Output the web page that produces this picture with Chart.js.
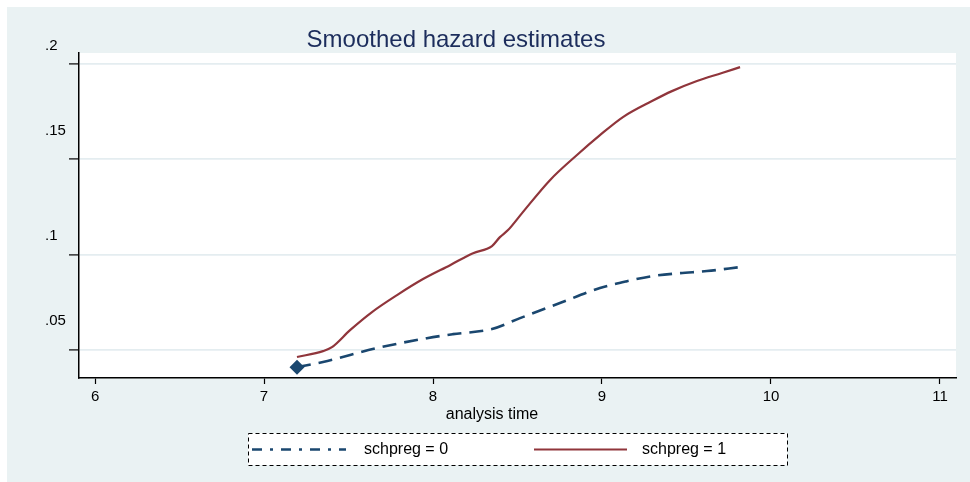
<!DOCTYPE html>
<html>
<head>
<meta charset="utf-8">
<title>Smoothed hazard estimates</title>
<script src="https://cdn.jsdelivr.net/npm/chart.js@4/dist/chart.umd.min.js"></script>
<style>
  html, body { margin: 0; padding: 0; background: #ffffff; }
  #wrap { width: 970px; height: 482px; }
</style>
</head>
<body>
<div id="wrap"><canvas id="hazard" width="970" height="482"></canvas></div>
<script>
// --- data ---
const timeGroup0 = [7.195, 7.349, 7.669, 7.964, 8.118, 8.349, 8.515, 8.751, 8.988, 9.148, 9.302, 9.462, 9.621, 9.817];
const hazardGroup0 = [0.0410, 0.0437, 0.0510, 0.0562, 0.0583, 0.0610, 0.0667, 0.0746, 0.0825, 0.0861, 0.0888, 0.0903, 0.0914, 0.0935];

const timeGroup1 = [7.195, 7.349, 7.402, 7.509, 7.639, 7.787, 7.941, 8.101, 8.237, 8.349, 8.396, 8.444, 8.527, 8.692, 8.852, 8.988, 9.124, 9.296, 9.414, 9.562, 9.710, 9.817];
const hazardGroup1 = [0.0463, 0.0494, 0.0515, 0.0604, 0.0699, 0.0788, 0.0872, 0.0945, 0.1008, 0.1045, 0.1092, 0.1129, 0.1218, 0.1391, 0.1523, 0.1627, 0.1722, 0.1806, 0.1858, 0.1911, 0.1953, 0.1984];

const seriesLabels = ['schpreg = 0', 'schpreg = 1'];
const xTickValues = [6, 7, 8, 9, 10, 11];
const xTickLabels = ['6', '7', '8', '9', '10', '11'];
const yTickValues = [0.05, 0.1, 0.15, 0.2];
const yTickLabels = ['.05', '.1', '.15', '.2'];

const NAVY = '#1a476f';
const MAROON = '#90353b';
const BG = '#eaf2f3';
const FONT = "'Liberation Sans', Arial, sans-serif";

const toPoints = (xs, ys) => xs.map((x, i) => ({ x: x, y: ys[i] }));

// Stata-ish frame: background, title, axis title, dashed legend box
const stataFrame = {
    id: 'stataFrame',
    beforeDraw(chart) {
        const { ctx, chartArea: a } = chart;
        ctx.save();
        ctx.fillStyle = '#ffffff';
        ctx.fillRect(0, 0, chart.width, chart.height);
        ctx.fillStyle = BG;
        ctx.fillRect(7, 7, chart.width - 7, chart.height - 7);
        ctx.fillStyle = '#ffffff';
        ctx.fillRect(a.left, a.top, a.right - a.left, a.bottom - a.top);
        ctx.restore();
    },
    afterDraw(chart) {
        const { ctx } = chart;
        ctx.save();

        // title
        ctx.fillStyle = '#1c2d5c';
        ctx.font = '24px ' + FONT;
        ctx.textAlign = 'center';
        ctx.textBaseline = 'alphabetic';
        ctx.fillText('Smoothed hazard estimates', 456, 47);

        // x axis title
        ctx.fillStyle = '#000000';
        ctx.font = '16px ' + FONT;
        ctx.fillText('analysis time', 492, 419);

        // legend box
        const lx = 248, ly = 433, lw = 539, lh = 32;
        ctx.fillStyle = '#ffffff';
        ctx.fillRect(lx, ly, lw, lh);
        ctx.strokeStyle = '#000000';
        ctx.lineWidth = 1;
        ctx.setLineDash([4, 3]);
        ctx.strokeRect(lx + 0.5, ly + 0.5, lw, lh);

        const my = ly + lh / 2 + 0.5;
        ctx.lineWidth = 2.5;
        ctx.strokeStyle = NAVY;
        ctx.setLineDash([10, 8, 3, 8]);
        ctx.beginPath();
        ctx.moveTo(252, my);
        ctx.lineTo(346, my);
        ctx.stroke();

        ctx.lineWidth = 2.2;
        ctx.strokeStyle = MAROON;
        ctx.setLineDash([]);
        ctx.beginPath();
        ctx.moveTo(534, my);
        ctx.lineTo(627, my);
        ctx.stroke();

        ctx.fillStyle = '#000000';
        ctx.font = '16px ' + FONT;
        ctx.textAlign = 'left';
        ctx.textBaseline = 'middle';
        ctx.fillText(seriesLabels[0], 364, my);
        ctx.fillText(seriesLabels[1], 642, my);

        ctx.restore();
    }
};

new Chart(document.getElementById('hazard'), {
    type: 'line',
    data: {
        datasets: [
            {
                label: seriesLabels[0],
                data: toPoints(timeGroup0, hazardGroup0),
                borderColor: NAVY,
                backgroundColor: NAVY,
                borderWidth: 2.6,
                borderDash: [14, 8],
                cubicInterpolationMode: 'monotone',
                pointStyle: 'rectRot',
                pointRadius: (c) => c.dataIndex === 0 ? 7.5 : 0,
                pointBorderWidth: 0,
                pointBackgroundColor: NAVY,
                fill: false
            },
            {
                label: seriesLabels[1],
                data: toPoints(timeGroup1, hazardGroup1),
                borderColor: MAROON,
                borderWidth: 2.2,
                cubicInterpolationMode: 'monotone',
                pointRadius: 0,
                fill: false
            }
        ]
    },
    options: {
        responsive: false,
        animation: false,
        layout: { padding: { left: 45, top: 53, right: 14, bottom: 0 } },
        plugins: {
            legend: { display: false },
            title: { display: false },
            tooltip: { enabled: false }
        },
        scales: {
            x: {
                type: 'linear',
                min: 5.905,
                max: 11.095,
                afterFit: (s) => { s.height = 104; },
                afterBuildTicks: (s) => { s.ticks = xTickValues.map(v => ({ value: v })); },
                ticks: {
                    color: '#000000',
                    font: { family: FONT, size: 15 },
                    padding: 4,
                    maxRotation: 0,
                    callback: (v, i) => xTickLabels[i]
                },
                grid: {
                    drawOnChartArea: false,
                    tickLength: 6,
                    tickColor: '#000000',
                    tickWidth: 1.2
                },
                border: { color: '#000000', width: 1.5 }
            },
            y: {
                type: 'linear',
                min: 0.0353,
                max: 0.2058,
                afterFit: (s) => { s.width = 34; },
                afterBuildTicks: (s) => { s.ticks = yTickValues.map(v => ({ value: v })); },
                ticks: {
                    color: '#000000',
                    font: { family: FONT, size: 15, lineHeight: 1.4 },
                    crossAlign: 'far',
                    padding: 0,
                    labelOffset: -18.5,
                    // the .05 and .15 labels sit a bit higher in the original
                    callback: (v, i) => i % 2 === 0 ? [yTickLabels[i], ''] : yTickLabels[i]
                },
                grid: {
                    color: '#e4edf0',
                    lineWidth: 1.8,
                    tickLength: 10,
                    tickColor: '#000000',
                    tickWidth: 1.2
                },
                border: { color: '#000000', width: 1.5 }
            }
        }
    },
    plugins: [stataFrame]
});
</script>
</body>
</html>
